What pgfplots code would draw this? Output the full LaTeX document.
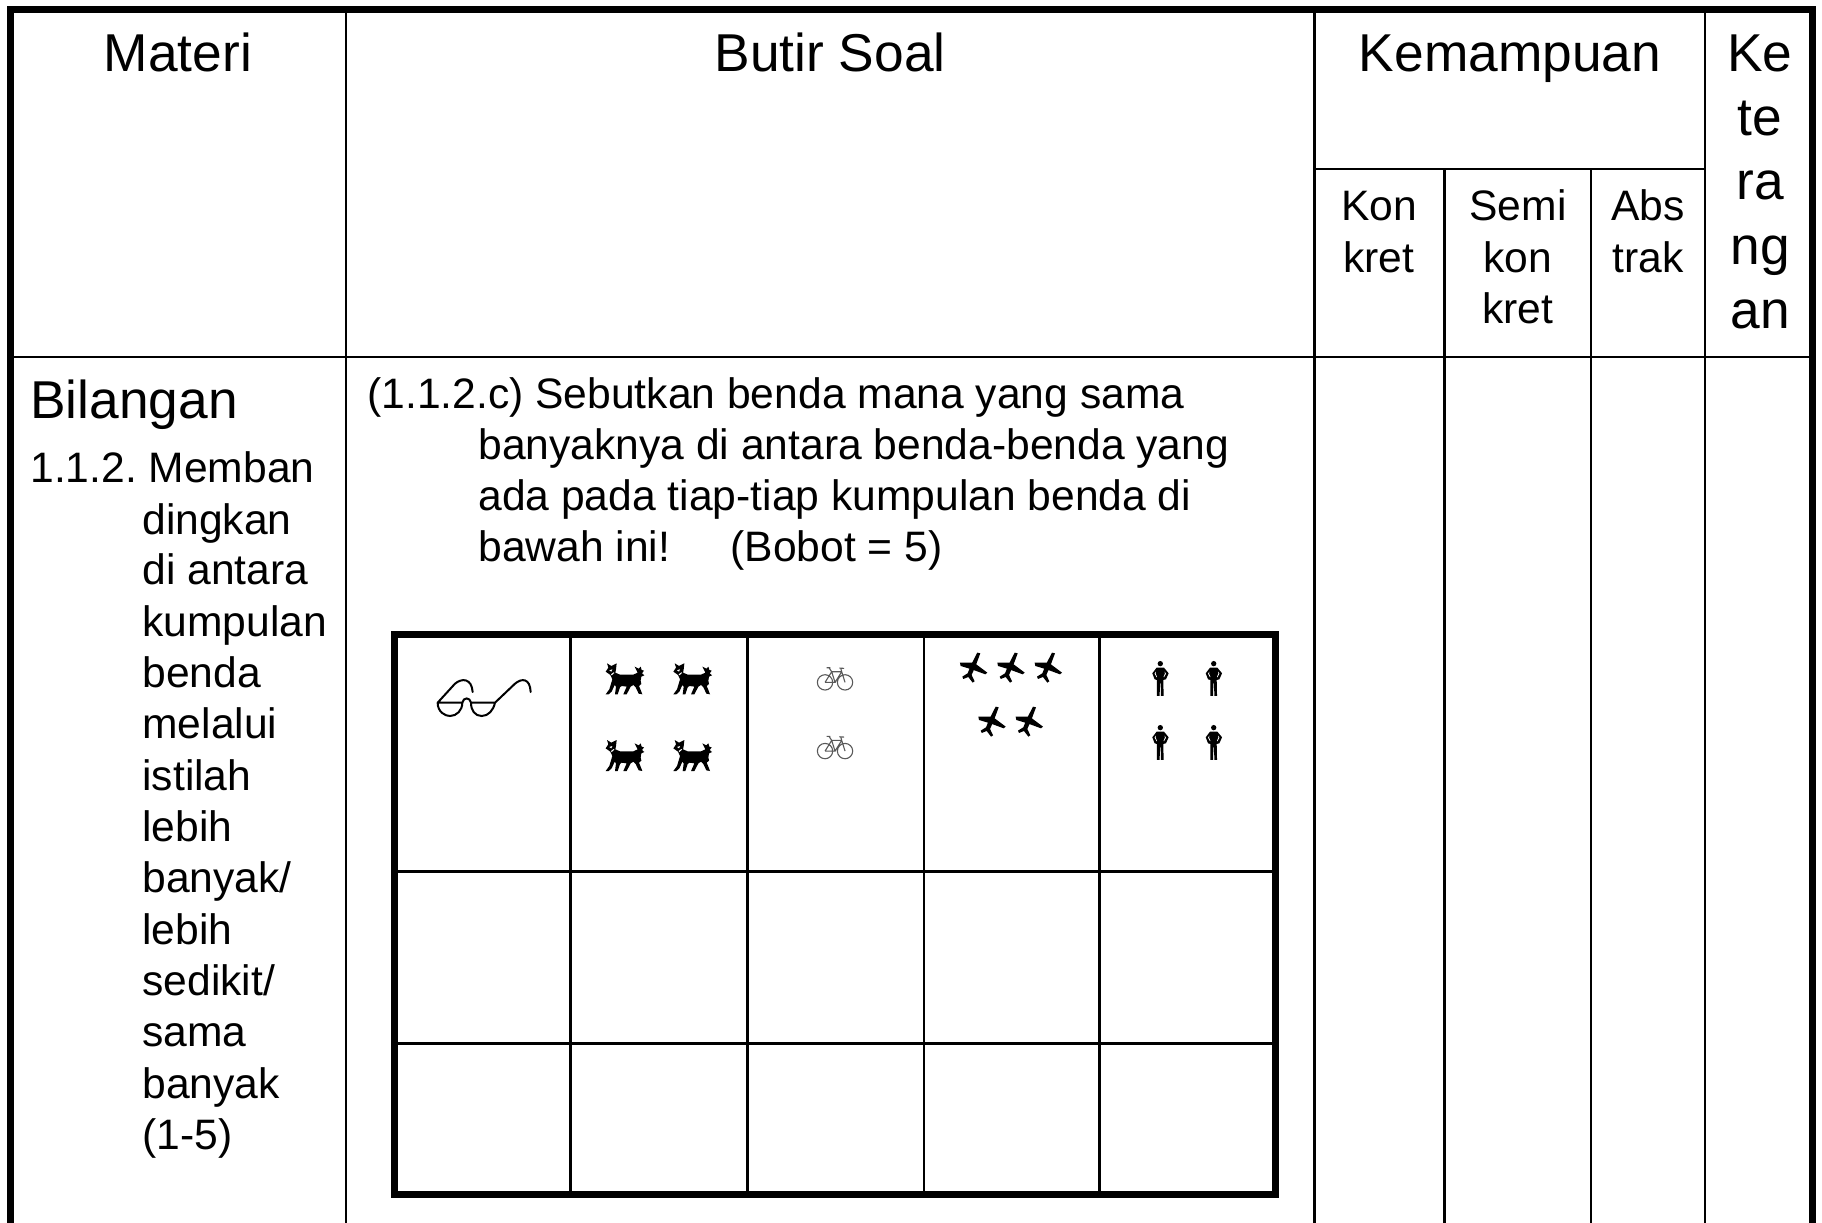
\documentclass[border=0pt]{standalone}
\usepackage{fontspec}
\setmainfont{Liberation Sans}
\usepackage{pgfplots}
\pgfplotsset{compat=1.18}
\tikzset{L/.style={anchor=base west, inner sep=0pt}, B/.style={anchor=base, inner sep=0pt}}
\def\M(#1,#2){\pgfpathmoveto{\pgfpoint{#1pt}{#2pt}}}
\def\L(#1,#2){\pgfpathlineto{\pgfpoint{#1pt}{#2pt}}}
\def\C(#1,#2)(#3,#4)(#5,#6){\pgfpathcurveto{\pgfpoint{#1pt}{#2pt}}{\pgfpoint{#3pt}{#4pt}}{\pgfpoint{#5pt}{#6pt}}}
\def\Z{\pgfpathclose}
\def\Icon#1#2{\pgftransformcm{.16667}{0}{0}{-.16667}{\pgfpointorigin}\pgftransformshift{\pgfpoint{-#1pt}{-#2pt}}}
% all icon paths are in units of one third of a reference pixel
\pgfdeclareplotmark{glasses}{%
  \Icon{252}{200}\pgfsetstrokecolor{black}\pgfsetlinewidth{1pt}\pgfsetroundcap
  \M(113,217)\L(187,217)\C(190,200)(210,200)(213,217)\L(285,217)
  \M(113,217)\C(113,245)(135,257)(150,257)\C(170,257)(187,240)(187,217)
  \M(213,217)\C(213,240)(225,257)(245,257)\C(265,257)(280,240)(285,217)
  \M(113,217)\L(165,160)\C(185,143)(215,143)(218,185)
  \M(285,217)\L(345,160)\C(365,143)(390,143)(392,185)
  \pgfusepathqstroke}
\pgfdeclareplotmark{dog}{%
  \Icon{672}{148}\pgfsetfillcolor{black}
  \M(617,125)\L(625,113)\L(621,100)\L(634,108)\L(650,100)\L(648,118)\L(646,128)\L(660,134)\L(700,134)\L(713,128)\L(704,110)\L(716,116)\L(722,110)\L(725,120)\L(732,122)\L(726,130)\L(733,136)\L(724,140)\L(722,152)\L(724,162)\L(717,168)\L(722,180)\L(727,193)\L(716,191)\L(707,172)\L(700,165)\L(692,170)\L(680,193)\L(670,193)\L(680,170)\L(665,168)\L(660,172)\L(653,193)\L(645,193)\L(648,170)\L(644,165)\L(635,185)\L(626,193)\L(617,193)\L(628,178)\L(637,148)\L(631,135)\Z
  \pgfusepathqfill
  \pgfsetfillcolor{white}
  \M(628,121)\L(637,118)\L(634,125)\Z
  \M(633,133)\L(641,127)\L(643,129)\L(635,136)\Z
  \pgfusepathqfill}
\pgfdeclareplotmark{bike}{%
  \Icon{1304}{146}\pgfsetstrokecolor{black!65}\pgfsetlinewidth{.55pt}
  \pgfpathcircle{\pgfpoint{1275pt}{157pt}}{23pt}
  \pgfpathcircle{\pgfpoint{1335pt}{157pt}}{23pt}
  \M(1275,157)\L(1295,125)\L(1325,125)\L(1335,157)
  \M(1275,157)\L(1305,157)\L(1295,125)
  \M(1305,157)\L(1325,125)
  \M(1280,113)\L(1291,113)\M(1287,113)\L(1295,125)
  \M(1318,114)\L(1332,115)\M(1325,125)\L(1322,114)
  \pgfusepathqstroke}
\pgfdeclareplotmark{plane}{%
  \Icon{220}{112}\pgfsetfillcolor{black}
  \M(180,98)\L(222,98)\L(262,128)\L(256,133)\L(215,118)\L(182,108)\Z
  \M(232,68)\L(241,70)\L(228,105)\L(215,135)\L(224,154)\L(218,158)\L(205,141)\L(190,147)\L(187,140)\L(203,130)\L(213,105)\Z
  \pgfusepathqfill}
\pgfdeclareplotmark{person}{%
  \Icon{781}{145}\pgfsetfillcolor{black}
  \pgfpathcircle{\pgfpoint{781pt}{101pt}}{8pt}
  \M(770,113)\L(792,113)\L(806,130)\L(798,148)\L(790,150)\L(791,198)\L(783,198)\L(782,160)\L(780,160)\L(779,198)\L(771,198)\L(771,150)\L(764,148)\L(757,130)\Z
  \pgfusepathqfill
  \pgfsetfillcolor{white}
  \M(768,125)\L(764,131)\L(770,142)\L(771,140)\L(767,131)\Z
  \M(794,125)\L(798,131)\L(792,142)\L(791,140)\L(795,131)\Z
  \pgfusepathqfill}
\begin{document}
\begin{tikzpicture}
\useasboundingbox (0,0) rectangle (911pt,611pt);
\begin{axis}[
  scale only axis, width=911pt, height=611pt,
  xmin=0, xmax=1822, ymin=0, ymax=1222, y dir=reverse,
  hide axis, clip=true,
]
% outer table frame (open at the bottom)
\addplot[black, line width=3.5pt] coordinates {(10.5,1230) (10.5,9.5) (1812.5,9.5) (1812.5,1230)};
% thin rules of the outer table
\addplot[black, line width=1.4pt] coordinates {(346,9) (346,1230)};
\addplot[black, line width=1.4pt] coordinates {(1314.5,9) (1314.5,1230)};
\addplot[black, line width=1.4pt] coordinates {(1444.5,169) (1444.5,1230)};
\addplot[black, line width=1.4pt] coordinates {(1591,169) (1591,1230)};
\addplot[black, line width=1.4pt] coordinates {(1705,9) (1705,1230)};
\addplot[black, line width=1.4pt] coordinates {(1314.5,169) (1705,169)};
\addplot[black, line width=1.4pt] coordinates {(10,357) (1812,357)};
% inner table
\addplot[black, line width=1.2pt] coordinates {(570.5,634) (570.5,1194)};
\addplot[black, line width=1.2pt] coordinates {(747.5,634) (747.5,1194)};
\addplot[black, line width=1.2pt] coordinates {(924,634) (924,1194)};
\addplot[black, line width=1.2pt] coordinates {(1099.5,634) (1099.5,1194)};
\addplot[black, line width=1.2pt] coordinates {(394,871.5) (1275,871.5)};
\addplot[black, line width=1.2pt] coordinates {(394,1043.5) (1275,1043.5)};
\addplot[black, line width=3.5pt] coordinates {(394,634.5) (1275,634.5) (1275,1194.5) (394,1194.5) (394,634.5) (1275,634.5)};
% icons
\addplot[only marks, mark=glasses] coordinates {(484,697)};
\addplot[only marks, mark=dog] coordinates {(624,679.3) (691.7,679.3) (624,756) (691.7,756)};
\addplot[only marks, mark=bike] coordinates {(834.7,678.7) (834.7,747.4)};
\addplot[only marks, mark=plane] coordinates {(973.3,667.3) (1010.7,667.3) (1048,667.3) (991.7,721.3) (1029,721.3)};
\addplot[only marks, mark=person] coordinates {(1160.3,678.3) (1213.7,678.3) (1160.3,742.3) (1213.7,742.3)};
% header text
\newcommand{\HB}{\fontsize{26.65pt}{32pt}\selectfont}
\newcommand{\SM}{\fontsize{21.3pt}{25.5pt}\selectfont}
\node[B] at (axis cs:178,71) {\HB Materi};
\node[B] at (axis cs:830,71) {\HB Butir Soal};
\node[B] at (axis cs:1510,71) {\HB Kemampuan};
\node[B] at (axis cs:1760,71) {\HB Ke};
\node[B] at (axis cs:1760,135.5) {\HB te};
\node[B] at (axis cs:1760,199) {\HB ra};
\node[B] at (axis cs:1760,264) {\HB ng};
\node[B] at (axis cs:1760,328) {\HB an};
\node[B] at (axis cs:1379,220) {\SM Kon};
\node[B] at (axis cs:1379,272) {\SM kret};
\node[B] at (axis cs:1518,220) {\SM Semi};
\node[B] at (axis cs:1518,272) {\SM kon};
\node[B] at (axis cs:1518,323.5) {\SM kret};
\node[B] at (axis cs:1648,220) {\SM Abs};
\node[B] at (axis cs:1648,272) {\SM trak};
% left column
\node[L] at (axis cs:30,418) {\HB Bilangan};
\node[L] at (axis cs:30,482) {\SM 1.1.2.\hspace{-2pt} Memban};
\node[L] at (axis cs:142,534) {\SM dingkan};
\node[L] at (axis cs:142,584.7) {\SM di antara};
\node[L] at (axis cs:142,636) {\SM kumpulan};
\node[L] at (axis cs:142,687.4) {\SM benda};
\node[L] at (axis cs:142,738.7) {\SM melalui};
\node[L] at (axis cs:142,790) {\SM istilah};
\node[L] at (axis cs:142,841.4) {\SM lebih};
\node[L] at (axis cs:142,892.8) {\SM banyak/};
\node[L] at (axis cs:142,944.2) {\SM lebih};
\node[L] at (axis cs:142,995.5) {\SM sedikit/};
\node[L] at (axis cs:142,1046.8) {\SM sama};
\node[L] at (axis cs:142,1098.2) {\SM banyak};
\node[L] at (axis cs:142,1149.5) {\SM (1-5)};
% question text
\node[L] at (axis cs:367,408) {\SM (1.1.2.c) Sebutkan benda mana yang sama};
\node[L] at (axis cs:478,459) {\SM banyaknya di antara benda-benda yang};
\node[L] at (axis cs:478,510) {\SM ada pada tiap-tiap kumpulan benda di};
\node[L] at (axis cs:478,561) {\SM bawah ini!};
\node[L] at (axis cs:730,561) {\SM (Bobot = 5)};
\end{axis}
\end{tikzpicture}
\end{document}
